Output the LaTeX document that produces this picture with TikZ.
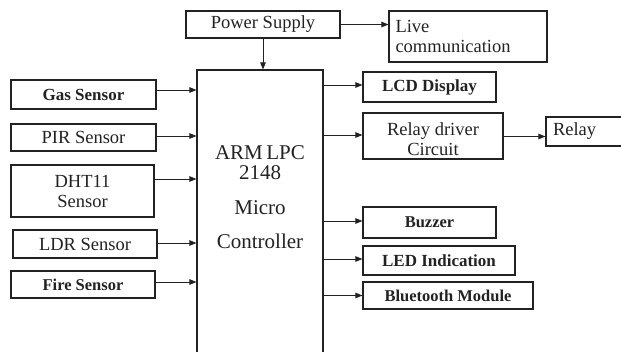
\documentclass[tikz,border=0pt]{standalone}
\usepackage{fontspec}
\setmainfont{Liberation Serif}
\usetikzlibrary{arrows.meta}
\definecolor{ink}{HTML}{222222}
\tikzset{
  box/.style={draw=ink, line width=1.1pt, inner sep=0pt, text=ink,
    font=\fontsize{18.5}{20}\selectfont, align=center},
  bbox/.style={box, font=\fontsize{17}{20}\selectfont\bfseries},
  arr/.style={draw=ink, line width=0.9pt, -{Triangle[length=7pt,width=5.5pt]}},
}
\begin{document}
\begin{tikzpicture}[x=1pt,y=-1pt]
\useasboundingbox (0,0) rectangle (621,352);
% main controller
\node[draw=ink, line width=1.1pt, minimum width=126pt, minimum height=350pt, inner sep=0pt] (main) at (260,245) {};
\node[text=ink, align=center, font=\fontsize{21}{20}\selectfont] (maintext) at (260,197) {ARM\,LPC\\2148\\[15pt]Micro\\[14pt]Controller};
% top
\node[box, minimum width=154pt, minimum height=27pt] (ps) at (263,24.5) {Power Supply};
\node[box, minimum width=158pt, minimum height=51pt, align=left, text width=145pt] (live) at (468,36.5) {Live\\communication};
% inputs
\node[bbox, minimum width=145pt, minimum height=29pt] (gas) at (83.5,94.5) {Gas Sensor};
\node[box, minimum width=145pt, minimum height=27pt] (pir) at (83.5,137.5) {PIR Sensor};
\node[box, minimum width=143pt, minimum height=52pt] (dht) at (82.5,191) {DHT11\\Sensor};
\node[box, minimum width=144pt, minimum height=28pt] (ldr) at (85,244) {LDR Sensor};
\node[bbox, minimum width=144pt, minimum height=27pt, font=\fontsize{16.5}{20}\selectfont\bfseries] (fire) at (83,284.5) {Fire Sensor};
% outputs
\node[bbox, minimum width=133pt, minimum height=30pt] (lcd) at (429.5,87) {LCD Display};
\node[box, minimum width=140pt, minimum height=46pt] (rdc) at (433,136) {};
\node[text=ink, align=center, font=\fontsize{18.5}{20}\selectfont] (rdctext) at (433,139) {Relay driver\\Circuit};
\node[box, minimum width=94pt, minimum height=29pt, text width=80pt, align=left] (relay) at (593,131.5) {Relay};
\node[bbox, minimum width=133pt, minimum height=31pt, font=\fontsize{16.5}{20}\selectfont\bfseries] (buz) at (429.5,222.5) {Buzzer};
\node[bbox, minimum width=152pt, minimum height=29pt] (led) at (439,260.5) {LED Indication};
\node[bbox, minimum width=170pt, minimum height=27pt, font=\fontsize{16.5}{20}\selectfont\bfseries] (bt) at (448,295.5) {Bluetooth Module};
% connectors
\draw[arr] (ps.east) -- (live.west |- ps.east);
\draw[arr] (ps.south) -- (ps.south |- main.north);
\draw[arr] ([yshift=4.5pt]gas.east) -- ([yshift=4.5pt]main.west |- gas.east);
\draw[arr] ([yshift=1.5pt]pir.east) -- ([yshift=1.5pt]main.west |- pir.east);
\draw[arr] ([yshift=12pt]dht.east) -- ([yshift=12pt]main.west |- dht.east);
\draw[arr] ([yshift=1pt]ldr.east) -- ([yshift=1pt]main.west |- ldr.east);
\draw[arr] ([yshift=2.5pt]fire.east) -- ([yshift=2.5pt]main.west |- fire.east);
\draw[arr] ([yshift=2pt]main.east |- lcd.west) -- ([yshift=2pt]lcd.west);
\draw[arr] ([yshift=1pt]main.east |- rdc.west) -- ([yshift=1pt]rdc.west);
\draw[arr] ([yshift=-0.5pt]rdc.east) -- ([yshift=-0.5pt]relay.west |- rdc.east);
\draw[arr] ([yshift=1.5pt]main.east |- buz.west) -- ([yshift=1.5pt]buz.west);
\draw[arr] ([yshift=1.5pt]main.east |- led.west) -- ([yshift=1.5pt]led.west);
\draw[arr] (main.east |- bt.west) -- (bt.west);
\end{tikzpicture}
\end{document}
